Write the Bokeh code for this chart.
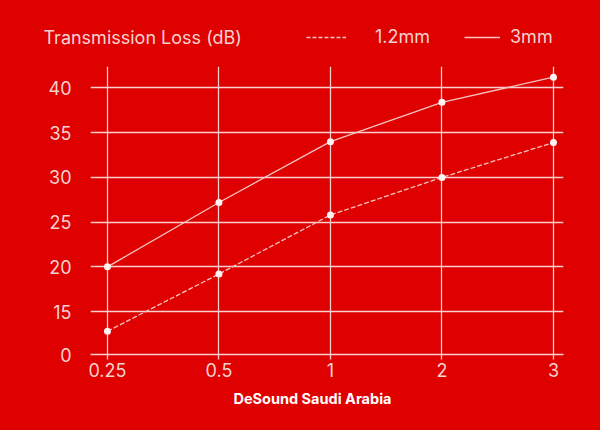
from bokeh.plotting import figure
from bokeh.layouts import column
from bokeh.models import Range1d, FixedTicker, Label, Legend, LegendItem, ColumnDataSource, Title
from bokeh.embed import file_html
from bokeh.resources import INLINE

# ---- data ----
categories = ["0.25", "0.5", "1", "2", "3"]
loss_1_2mm = [12.8, 19.2, 25.8, 30.0, 33.9]
loss_3mm = [20.0, 27.2, 34.0, 38.4, 41.2]
y_ticks = [15, 20, 25, 30, 35, 40]
y_floor = 10.2
y_floor_label = "0"
y_top = 42.4
series_names = ["1.2mm", "3mm"]
title_text = "Transmission Loss (dB)"
footer_text = "DeSound Saudi Arabia"

BG = "#DF0000"
TXT = "#F6D2D2"
GRID = "#F7CFCF"
LINE = "#F7C2C2"
DOT = "#FFF3F3"
FONT = "Inter"

W = 600
HEAD_H = 66
MAIN_H = 364

# ---------------- header (title + legend) ----------------
head = figure(width=W, height=HEAD_H, output_backend="svg", toolbar_location=None,
              x_range=Range1d(0, W), y_range=Range1d(0, HEAD_H),
              x_axis_type=None, y_axis_type=None,
              min_border_left=0, min_border_right=0, min_border_top=0, min_border_bottom=0)
head.frame_align = False
head.background_fill_color = BG
head.border_fill_color = BG
head.outline_line_color = None
head.xgrid.visible = False
head.ygrid.visible = False

# legend-only key renderers (no visible data)
key_src = ColumnDataSource(dict(x=[float("nan")], y=[float("nan")]))
h1 = head.line("x", "y", source=key_src, line_color=LINE, line_width=1.3, line_dash="4 2")
h2 = head.line("x", "y", source=key_src, line_color=LINE, line_width=1.3)

common = dict(orientation="horizontal", glyph_height=20, label_height=20,
              label_text_color=TXT, label_text_font=FONT, label_text_font_size="18px",
              background_fill_alpha=0, border_line_color=None, padding=0, margin=0)
leg1 = Legend(items=[LegendItem(label=series_names[0], renderers=[h1])],
              location=(306, 19), glyph_width=40, label_standoff=29, **common)
leg2 = Legend(items=[LegendItem(label=series_names[1], renderers=[h2])],
              location=(464, 19), glyph_width=36, label_standoff=10, **common)
head.add_layout(leg1, "center")
head.add_layout(leg2, "center")

head.add_layout(Label(x=43, y=29, text=title_text,
                      text_color=TXT, text_font=FONT, text_font_size="18px",
                      text_baseline="middle"))

# ---------------- main chart ----------------
xs = list(range(len(categories)))
src = ColumnDataSource(dict(x=xs, a=loss_1_2mm, b=loss_3mm))

p = figure(width=W, height=MAIN_H, output_backend="svg", toolbar_location=None,
           x_range=Range1d(-0.152, len(categories) - 1 + 0.09),
           y_range=Range1d(y_floor, y_top),
           min_border_left=90, min_border_right=37, min_border_top=0, min_border_bottom=76)
p.frame_align = False
p.background_fill_color = BG
p.border_fill_color = BG
p.outline_line_color = None

p.xaxis.ticker = FixedTicker(ticks=xs)
p.xaxis.major_label_overrides = {i: c for i, c in enumerate(categories)}
p.xaxis.axis_line_color = GRID
p.xaxis.axis_line_width = 1.3
p.xaxis.major_tick_line_color = GRID
p.xaxis.major_tick_line_width = 1.3
p.xaxis.major_tick_out = 5
p.xaxis.major_tick_in = 0
p.xaxis.minor_tick_line_color = None
p.xaxis.major_label_text_color = TXT
p.xaxis.major_label_text_font = FONT
p.xaxis.major_label_text_font_size = "18px"
p.xaxis.major_label_standoff = 3

p.yaxis.ticker = FixedTicker(ticks=[y_floor] + y_ticks)
p.yaxis.major_label_overrides = {y_floor: y_floor_label}
p.yaxis.axis_line_color = None
p.yaxis.major_tick_line_color = None
p.yaxis.minor_tick_line_color = None
p.yaxis.major_label_text_color = TXT
p.yaxis.major_label_text_font = FONT
p.yaxis.major_label_text_font_size = "18px"
p.yaxis.major_label_standoff = 13

p.xgrid.ticker = FixedTicker(ticks=xs)
p.xgrid.grid_line_color = GRID
p.xgrid.grid_line_width = 1.3
p.ygrid.ticker = FixedTicker(ticks=y_ticks)
p.ygrid.grid_line_color = GRID
p.ygrid.grid_line_width = 1.3

l1 = p.line("x", "a", source=src, line_color=LINE, line_width=1.3, line_dash="5 2")
l2 = p.line("x", "b", source=src, line_color=LINE, line_width=1.3)
p.scatter("x", "a", source=src, size=7, fill_color=DOT, line_color=None)
p.scatter("x", "b", source=src, size=7, fill_color=DOT, line_color=None)

p.add_layout(Title(text=footer_text, align="left", offset=143, standoff=17,
                   text_color="#FFFFFF", text_font=FONT, text_font_size="14.5px",
                   text_font_style="bold"), "below")

layout = column(head, p, spacing=0)
layout.background = BG

open("out.html", "w").write(file_html(layout, INLINE))
